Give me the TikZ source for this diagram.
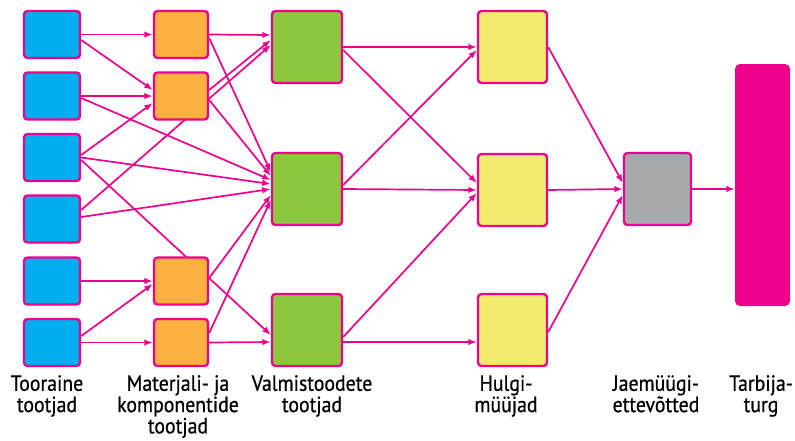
\documentclass[tikz,border=0pt]{standalone}
\usepackage{fontspec}
\setmainfont{PT Sans}[FakeStretch=0.9, FakeBold=0.7]
\usetikzlibrary{arrows.meta,backgrounds}
\definecolor{roosa}{RGB}{236,0,140}
\definecolor{sinine}{RGB}{0,174,239}
\definecolor{oranz}{RGB}{251,176,64}
\definecolor{roheline}{RGB}{141,198,63}
\definecolor{kollane}{RGB}{242,235,112}
\definecolor{hall}{RGB}{167,169,172}
\tikzset{
  kast/.style={draw=roosa, line width=2.4pt, rounded corners=3.5pt, inner sep=0pt},
  silt/.style={anchor=north, align=center, inner sep=0pt},
  nool/.style={->, draw=roosa, line width=1.7pt}
}
\begin{document}
\begin{tikzpicture}[x=1pt, y=-1pt, font=\fontsize{22}{21.3}\selectfont, line join=round, >={Latex[length=8.5pt,width=6.5pt]}]
\useasboundingbox (0,0) rectangle (795,440);
% ettevotted
\foreach \n/\y in {1/34.5,2/96,3/157.5,4/219,5/281,6/342.5}
  \node[kast, fill=sinine, minimum width=56pt, minimum height=47pt] (t\n) at (52,\y) {};
\foreach \n/\y in {1/34.5,2/96,3/281,4/342.5}
  \node[kast, fill=oranz, minimum width=54pt, minimum height=47pt] (m\n) at (181,\y) {};
\foreach \n/\y in {1/47,2/189,3/330}
  \node[kast, fill=roheline, minimum width=70pt, minimum height=72pt] (v\n) at (307,\y) {};
\foreach \n/\y in {1/47,2/190,3/330}
  \node[kast, fill=kollane, minimum width=69pt, minimum height=72pt] (h\n) at (512.5,\y) {};
\node[kast, fill=hall, minimum width=67pt, minimum height=72pt] (j) at (657.5,189) {};
\node[fill=roosa, rounded corners=5pt, minimum width=55pt, minimum height=242pt, inner sep=0pt] (tarb) at (762.5,185) {};
% nooled (taustal)
\begin{scope}[on background layer]
\foreach \a/\sa/\b/\sb in {t1/0/m1/0, t1/-5.5/m2/6, t2/0/m2/0, t2/-2/v2/9,
    t3/2.5/m2/-7, t3/0/v2/5, t3/-2.5/v3/-5, t4/9/v1/2, t4/2/v2/0,
    t5/0/m3/0, t6/6.5/m3/-3, t6/0/m4/0,
    m1/0/v1/12, m1/-3.5/v2/17, m2/6/v1/7, m2/-4/v2/13,
    m3/3/v2/-6, m4/9.5/v2/-11, m4/0/v3/-12,
    v1/0/h1/0, v1/-3/h2/7, v2/4/h1/-3, v2/0/h2/0, v3/-7/h2/-3, v3/-12/h3/-12,
    h1/0/j/6, h2/0/j/0, h3/-2/j/-6, j/0/tarb/-4}
  \draw[nool] ([yshift=\sa pt]\a.east) -- ([yshift=\sb pt]\b.west);
\end{scope}
% sildid
\node[silt] (s1) at (47,375) {Tooraine\\tootjad};
\node[silt] (s2) at (178,375) {Materjali- ja\\komponentide\\tootjad};
\node[silt] (s3) at (312,375) {Valmistoodete\\tootjad};
\node[silt] (s4) at (506,375) {Hulgi-\\müüjad};
\node[silt] (s5) at (656,375) {Jaemüügi-\\ettevõtted};
\node[silt] (s6) at (761,375) {Tarbija-\\turg};
\end{tikzpicture}
\end{document}
